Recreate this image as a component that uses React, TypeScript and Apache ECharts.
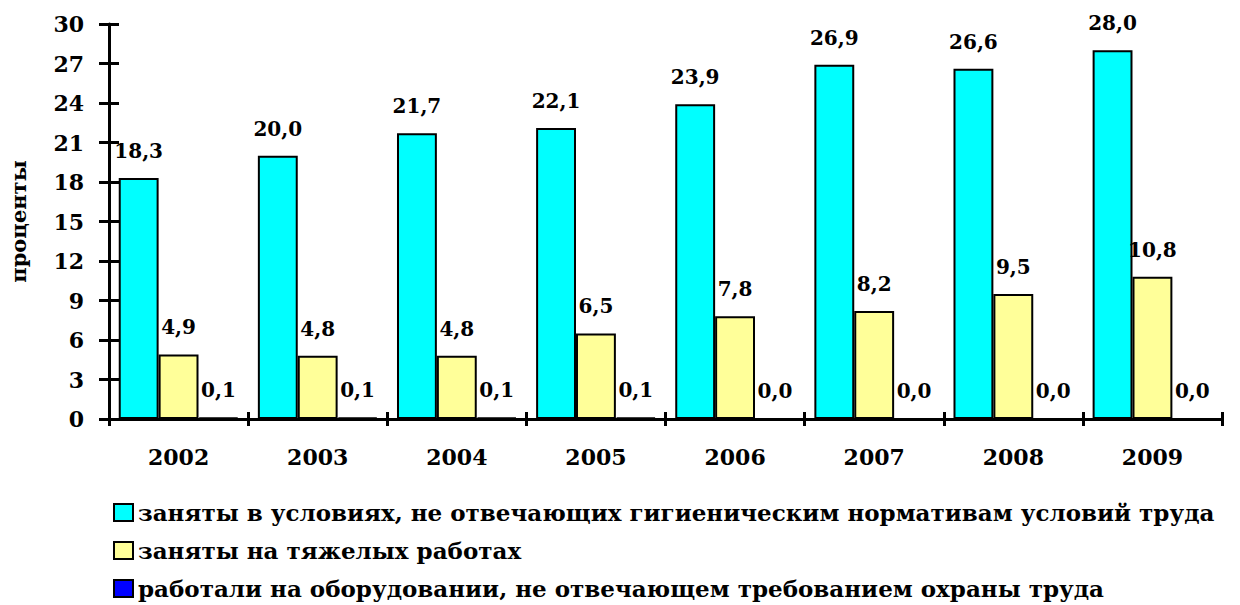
import React, { useEffect, useRef } from "react";
import * as echarts from "echarts";

const years = ["2002", "2003", "2004", "2005", "2006", "2007", "2008", "2009"];
const hygiene = [18.3, 20.0, 21.7, 22.1, 23.9, 26.9, 26.6, 28.0];
const heavy = [4.9, 4.8, 4.8, 6.5, 7.8, 8.2, 9.5, 10.8];
const equipment = [0.1, 0.1, 0.1, 0.1, 0.0, 0.0, 0.0, 0.0];
const seriesNames = [
  "заняты в условиях, не отвечающих гигиеническим нормативам условий труда",
  "заняты на тяжелых работах",
  "работали на оборудовании, не отвечающем требованием охраны труда",
];
const colors = ["#00FFFF", "#FFFF99", "#0000FF"];

const FONT = "DejaVu Serif";

export default function App() {
  const ref = useRef<HTMLDivElement>(null);
  useEffect(() => {
    if (!ref.current) return;
    const chart = echarts.init(ref.current, undefined, { renderer: "svg" });
    const label = {
      show: true,
      position: "top",
      distance: 17,
      fontFamily: FONT,
      fontWeight: "bold",
      fontSize: 20,
      color: "#000",
      formatter: (p: any) => Number(p.value).toFixed(1).replace(".", ","),
    };
    const datasets = [hygiene, heavy, equipment];
    const legendTops = [501, 539, 577];
    chart.setOption({
      animation: false,
      backgroundColor: "#fff",
      grid: { left: 104, right: 18, top: 24, bottom: 186, containLabel: false },
      legend: seriesNames.map((n, i) => ({
        orient: "vertical",
        left: 113,
        top: legendTops[i],
        padding: 0,
        itemWidth: 19,
        itemHeight: 17,
        icon: "rect",
        textStyle: { fontFamily: FONT, fontWeight: "bold", fontSize: 23, color: "#000" },
        data: [n],
      })),
      xAxis: [
        {
          type: "category",
          data: years,
          position: "bottom",
          axisLine: { lineStyle: { color: "#000", width: 3 } },
          axisTick: { show: true, length: 7, lineStyle: { color: "#000", width: 3 } },
          axisLabel: {
            margin: 27,
            fontFamily: FONT,
            fontWeight: "bold",
            fontSize: 22,
            color: "#000",
          },
        },
        {
          type: "category",
          data: years,
          position: "bottom",
          axisLine: { show: false },
          axisTick: { show: true, inside: true, length: 7, lineStyle: { color: "#000", width: 3 } },
          axisLabel: { show: false },
        },
      ],
      yAxis: [
        {
          type: "value",
          min: 0,
          max: 30,
          interval: 3,
          name: "проценты",
          nameLocation: "middle",
          nameGap: 80,
          nameRotate: 90,
          nameTextStyle: { fontFamily: FONT, fontWeight: "bold", fontSize: 21, color: "#000" },
          splitLine: { show: false },
          axisLine: { show: true, lineStyle: { color: "#000", width: 3 } },
          axisTick: { show: true, length: 10, lineStyle: { color: "#000", width: 3 } },
          axisLabel: {
            margin: 25,
            fontFamily: FONT,
            fontWeight: "bold",
            fontSize: 22,
            color: "#000",
          },
        },
        {
          type: "value",
          min: 0,
          max: 30,
          interval: 3,
          position: "left",
          splitLine: { show: false },
          axisLine: { show: false },
          axisTick: { show: true, inside: true, length: 10, lineStyle: { color: "#000", width: 3 } },
          axisLabel: { show: false },
        },
      ],
      series: datasets.map((d, i) => ({
        name: seriesNames[i],
        type: "bar",
        data: d,
        xAxisIndex: 0,
        yAxisIndex: 0,
        barGap: "0%",
        barCategoryGap: "14%",
        itemStyle: { color: colors[i], borderColor: "#000", borderWidth: 2 },
        label,
      })),
    });
    return () => chart.dispose();
  }, []);
  return <div ref={ref} style={{ width: 1240, height: 605, position: "absolute", left: 0, top: 0 }} />;
}
